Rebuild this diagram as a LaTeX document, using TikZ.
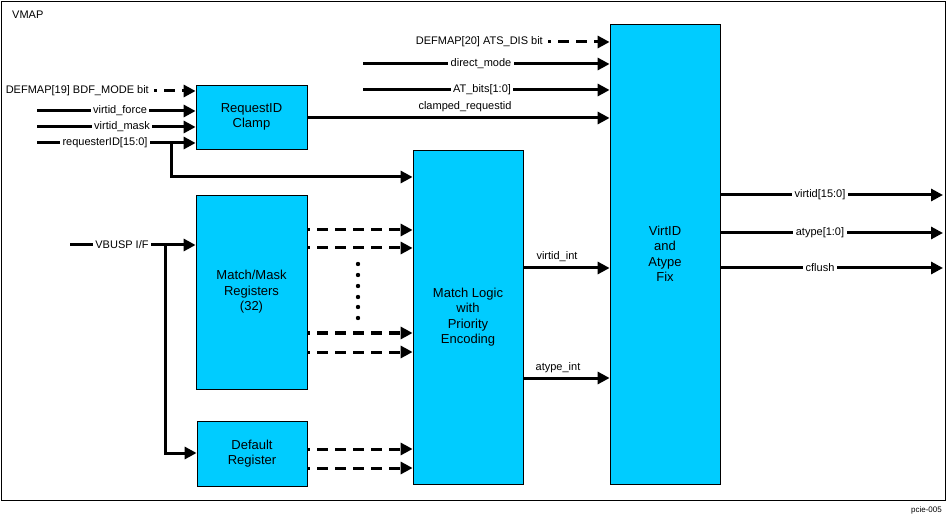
\documentclass[tikz,border=0pt]{standalone}
\usepackage{fontspec}
\setmainfont{Liberation Sans}
\usetikzlibrary{arrows.meta}
\definecolor{vmapcyan}{RGB}{0,204,255}
\tikzset{
  blk/.style={draw, line width=0.8pt, fill=vmapcyan, align=center, inner sep=0pt,
    font=\fontsize{13}{15.5}\selectfont},
  sig/.style={line width=3pt, -{Triangle[length=12pt,width=12pt]}},
  dsig/.style={sig, dash pattern=on 11pt off 7pt, dash phase=8pt},
  lbl/.style={fill=white, inner sep=2.5pt, font=\fontsize{11}{12}\selectfont},
  tag/.style={inner sep=1pt, font=\fontsize{11}{12}\selectfont},
}
\begin{document}
\begin{tikzpicture}[x=1pt,y=-1pt]
\useasboundingbox (0,0) rectangle (947,518);
\draw[line width=0.8pt] (1,1) rectangle (945.5,500);
\node[tag, anchor=west] (vmap) at (11,15) {VMAP};
\node[tag, anchor=east, font=\fontsize{8}{9}\selectfont] (figno) at (943,510) {pcie-005};

% blocks
\node[blk, minimum width=111pt, minimum height=64pt] (clamp) at (251.5,117) {RequestID\\Clamp};
\node[blk, minimum width=111pt, minimum height=194pt] (match) at (251.5,292) {Match/Mask\\Registers\\(32)};
\node[blk, minimum width=110pt, minimum height=65pt] (default) at (252,453.5) {Default\\Register};
\node[blk, minimum width=110pt, minimum height=334pt] (logic) at (468,317) {Match Logic\\with\\Priority\\Encoding};
\node[blk, minimum width=110pt, minimum height=460pt] (virt) at (665,254) {VirtID\\and\\Atype\\Fix};

% inputs of the clamp
\node[tag, anchor=east] (bdf) at (150,91) {DEFMAP[19] BDF\_MODE bit};
\draw[dsig] ([xshift=4pt]bdf.east) -- (bdf.east -| clamp.west);
\coordinate (force) at (37,111);
\coordinate (mask) at (37,127);
\coordinate (rqid) at (37,143);
\draw[sig] (force) -- (force -| clamp.west);
\draw[sig] (mask) -- (mask -| clamp.west);
\draw[sig] (rqid) -- (rqid -| clamp.west);
\node[lbl] (forcetxt) at (120,111) {virtid\_force};
\node[lbl] (masktxt) at (122,127) {virtid\_mask};
\node[lbl] (rqidtxt) at (105,143) {requesterID[15:0]};
\coordinate (rqdown) at (171,177);
\draw[sig] (171,143) -- (rqdown) -- (rqdown -| logic.west);

% register inputs
\coordinate (vbusp) at (70,245);
\draw[sig] (vbusp) -- (vbusp -| match.west);
\node[lbl] (vbusptxt) at (122,245) {VBUSP I/F};
\coordinate (vbdown) at (165,453);
\draw[sig] (165,245) -- (vbdown) -- (vbdown -| default.west);

% registers to match logic
\foreach \y in {230,248,333,352}
  \draw[dsig] (match.east |- 0,\y) -- (logic.west |- 0,\y);
\foreach \y in {449,468}
  \draw[dsig] (default.east |- 0,\y) -- (logic.west |- 0,\y);
\foreach \y in {264,275,286,297,307,318}
  \fill (358,\y) circle (2.2pt);

% inputs of the fix block
\node[tag, anchor=east] (atsdis) at (544,42) {DEFMAP[20] ATS\_DIS bit};
\draw[dsig] ([xshift=4pt]atsdis.east) -- (atsdis.east -| virt.west);
\coordinate (direct) at (363,64);
\coordinate (atbits) at (363,90);
\draw[sig] (direct) -- (direct -| virt.west);
\draw[sig] (atbits) -- (atbits -| virt.west);
\node[lbl] (directtxt) at (481,64) {direct\_mode};
\node[lbl] (atbitstxt) at (482,90) {AT\_bits[1:0]};
\draw[sig] (clamp.east |- 0,118) -- (virt.west |- 0,118);
\node[tag] (clamptxt) at (465,107) {clamped\_requestid};

% match logic to fix block
\draw[sig] (logic.east |- 0,268) -- (virt.west |- 0,268);
\node[tag] (vinttxt) at (557,257) {virtid\_int};
\draw[sig] (logic.east |- 0,378) -- (virt.west |- 0,378);
\node[tag] (ainttxt) at (558,368) {atype\_int};

% outputs
\foreach \y/\t in {195/{virtid[15:0]},233/{atype[1:0]},268/{cflush}} {
  \coordinate (out\y) at (943,\y);
  \draw[sig] (virt.east |- out\y) -- (out\y);
  \node[lbl] at (820,\y) {\t};
}
\end{tikzpicture}
\end{document}
